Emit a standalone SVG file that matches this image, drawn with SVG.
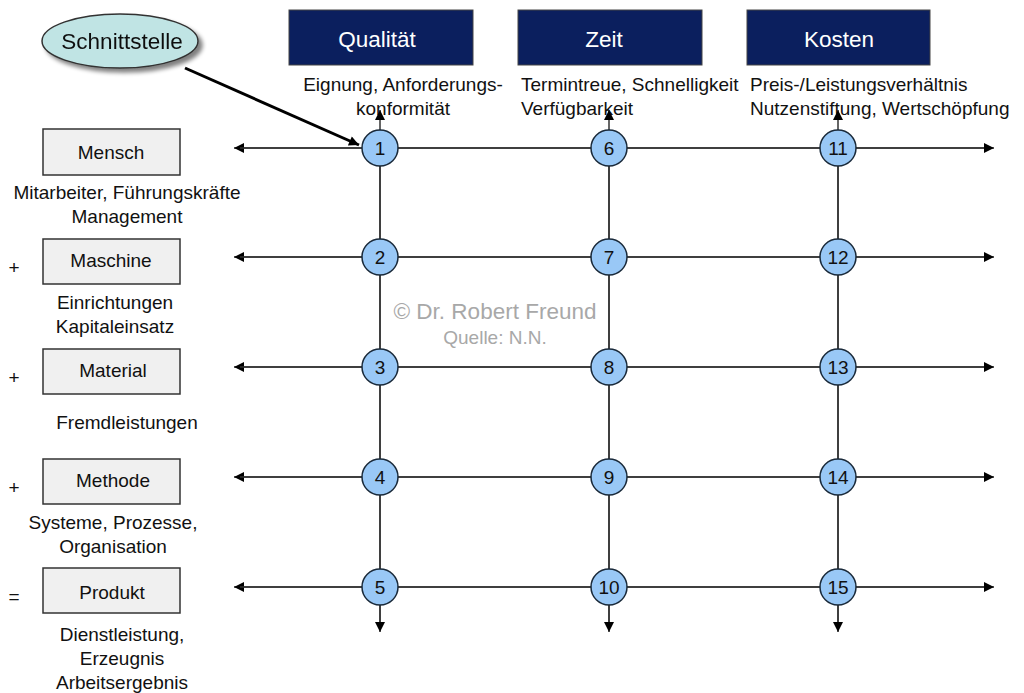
<svg xmlns="http://www.w3.org/2000/svg" width="1024" height="693" viewBox="0 0 1024 693">
<defs>
<marker id="ah" viewBox="0 0 10 10" refX="10" refY="5" markerWidth="10" markerHeight="10" markerUnits="userSpaceOnUse" orient="auto"><path d="M0,0 L10,5 L0,10 z" fill="#000"/></marker>
<marker id="ahb" viewBox="0 0 10 10" refX="10" refY="5" markerWidth="12" markerHeight="10" markerUnits="userSpaceOnUse" orient="auto"><path d="M0,0 L10,5 L0,10 z" fill="#000"/></marker>
<filter id="sh" x="-20%" y="-20%" width="150%" height="160%"><feGaussianBlur in="SourceAlpha" stdDeviation="2"/><feOffset dx="4" dy="4"/><feComponentTransfer><feFuncA type="linear" slope="0.5"/></feComponentTransfer><feMerge><feMergeNode/><feMergeNode in="SourceGraphic"/></feMerge></filter>
</defs>
<style>
text{font-family:"Liberation Sans",Arial,sans-serif;fill:#111;}
.hd rect{fill:#0b1f5e;stroke:#444;stroke-width:1;}
.hd text{fill:#fff;font-size:22.5px;text-anchor:middle;}
.lb rect{fill:#f0f0f0;stroke:#333;stroke-width:1.5;}
.lb text{font-size:19px;text-anchor:middle;}
.t{font-size:19px;}
.c{text-anchor:middle;}
.n circle{fill:#99c8f6;stroke:#1a2a3a;stroke-width:1.5;}
.n text{font-size:19px;text-anchor:middle;}
.ln line{stroke:#333;stroke-width:1.5;}
.wm{fill:#a8a8a8;text-anchor:middle;}
</style>
<rect width="1024" height="693" fill="#fff"/>

<g id="schnittstelle" filter="url(#sh)">
<ellipse cx="120" cy="41" rx="78" ry="27" fill="#c0e4e4" stroke="#333" stroke-width="1.5"/>
<text x="122" y="49" class="c" style="font-size:22.5px">Schnittstelle</text>
</g>

<g id="header-qualitaet" class="hd"><rect x="289" y="10" width="184" height="55"/><text x="377" y="47">Qualität</text></g>
<g id="header-zeit" class="hd"><rect x="518" y="10" width="184" height="55"/><text x="604" y="47">Zeit</text></g>
<g id="header-kosten" class="hd"><rect x="747" y="10" width="183" height="55"/><text x="839" y="47">Kosten</text></g>

<g id="desc-qualitaet"><text x="403" y="91" class="t c">Eignung, Anforderungs-</text><text x="403" y="115" class="t c">konformität</text></g>
<g id="desc-zeit"><text x="521" y="91" class="t">Termintreue, Schnelligkeit</text><text x="521" y="115" class="t">Verfügbarkeit</text></g>
<g id="desc-kosten"><text x="750" y="91" class="t">Preis-/Leistungsverhältnis</text><text x="750" y="115" class="t">Nutzenstiftung, Wertschöpfung</text></g>

<g id="connectors" class="ln">
<line x1="380" y1="630" x2="380" y2="110" marker-end="url(#ah)"/>
<line x1="380" y1="160" x2="380" y2="632" marker-end="url(#ah)"/>
<line x1="609" y1="630" x2="609" y2="110" marker-end="url(#ah)"/>
<line x1="609" y1="160" x2="609" y2="632" marker-end="url(#ah)"/>
<line x1="838" y1="630" x2="838" y2="110" marker-end="url(#ah)"/>
<line x1="838" y1="160" x2="838" y2="632" marker-end="url(#ah)"/>
<line x1="990" y1="148" x2="234" y2="148" marker-end="url(#ah)"/>
<line x1="240" y1="148" x2="994" y2="148" marker-end="url(#ah)"/>
<line x1="990" y1="257" x2="234" y2="257" marker-end="url(#ah)"/>
<line x1="240" y1="257" x2="994" y2="257" marker-end="url(#ah)"/>
<line x1="990" y1="367" x2="234" y2="367" marker-end="url(#ah)"/>
<line x1="240" y1="367" x2="994" y2="367" marker-end="url(#ah)"/>
<line x1="990" y1="477" x2="234" y2="477" marker-end="url(#ah)"/>
<line x1="240" y1="477" x2="994" y2="477" marker-end="url(#ah)"/>
<line x1="990" y1="587" x2="234" y2="587" marker-end="url(#ah)"/>
<line x1="240" y1="587" x2="994" y2="587" marker-end="url(#ah)"/>
<line x1="185" y1="68" x2="359" y2="145" style="stroke:#000;stroke-width:3" marker-end="url(#ahb)"/>
</g>

<g id="n1" class="n"><circle cx="380" cy="148" r="18"/><text x="380" y="155">1</text></g>
<g id="n2" class="n"><circle cx="380" cy="257" r="18"/><text x="380" y="264">2</text></g>
<g id="n3" class="n"><circle cx="380" cy="367" r="18"/><text x="380" y="374">3</text></g>
<g id="n4" class="n"><circle cx="380" cy="477" r="18"/><text x="380" y="484">4</text></g>
<g id="n5" class="n"><circle cx="380" cy="587" r="18"/><text x="380" y="594">5</text></g>
<g id="n6" class="n"><circle cx="609" cy="148" r="18"/><text x="609" y="155">6</text></g>
<g id="n7" class="n"><circle cx="609" cy="257" r="18"/><text x="609" y="264">7</text></g>
<g id="n8" class="n"><circle cx="609" cy="367" r="18"/><text x="609" y="374">8</text></g>
<g id="n9" class="n"><circle cx="609" cy="477" r="18"/><text x="609" y="484">9</text></g>
<g id="n10" class="n"><circle cx="609" cy="587" r="18"/><text x="609" y="594">10</text></g>
<g id="n11" class="n"><circle cx="838" cy="148" r="18"/><text x="838" y="155">11</text></g>
<g id="n12" class="n"><circle cx="838" cy="257" r="18"/><text x="838" y="264">12</text></g>
<g id="n13" class="n"><circle cx="838" cy="367" r="18"/><text x="838" y="374">13</text></g>
<g id="n14" class="n"><circle cx="838" cy="477" r="18"/><text x="838" y="484">14</text></g>
<g id="n15" class="n"><circle cx="838" cy="587" r="18"/><text x="838" y="594">15</text></g>

<g id="mensch" class="lb"><rect x="43" y="129" width="137" height="46"/><text x="111" y="159">Mensch</text></g>
<g id="maschine" class="lb"><rect x="43" y="239" width="137" height="45"/><text x="111" y="267">Maschine</text></g>
<g id="material" class="lb"><rect x="43" y="349" width="137" height="45"/><text x="113" y="377">Material</text></g>
<g id="methode" class="lb"><rect x="43" y="459" width="137" height="45"/><text x="113" y="487">Methode</text></g>
<g id="produkt" class="lb"><rect x="43" y="568" width="137" height="45"/><text x="112" y="599">Produkt</text></g>

<g id="side-texts">
<text x="127" y="199" class="t c">Mitarbeiter, Führungskräfte</text>
<text x="127" y="223" class="t c">Management</text>
<text x="14" y="274" class="t c">+</text>
<text x="115" y="309" class="t c">Einrichtungen</text>
<text x="115" y="333" class="t c">Kapitaleinsatz</text>
<text x="14" y="384" class="t c">+</text>
<text x="127" y="429" class="t c">Fremdleistungen</text>
<text x="14" y="494" class="t c">+</text>
<text x="113" y="529" class="t c">Systeme, Prozesse,</text>
<text x="113" y="553" class="t c">Organisation</text>
<text x="14" y="603" class="t c">=</text>
<text x="122" y="641" class="t c">Dienstleistung,</text>
<text x="122" y="665" class="t c">Erzeugnis</text>
<text x="122" y="689" class="t c">Arbeitsergebnis</text>
</g>

<g id="watermark">
<text x="495" y="319" class="wm" style="font-size:22.5px">© Dr. Robert Freund</text>
<text x="495" y="344" class="wm" style="font-size:19px">Quelle: N.N.</text>
</g>
</svg>
